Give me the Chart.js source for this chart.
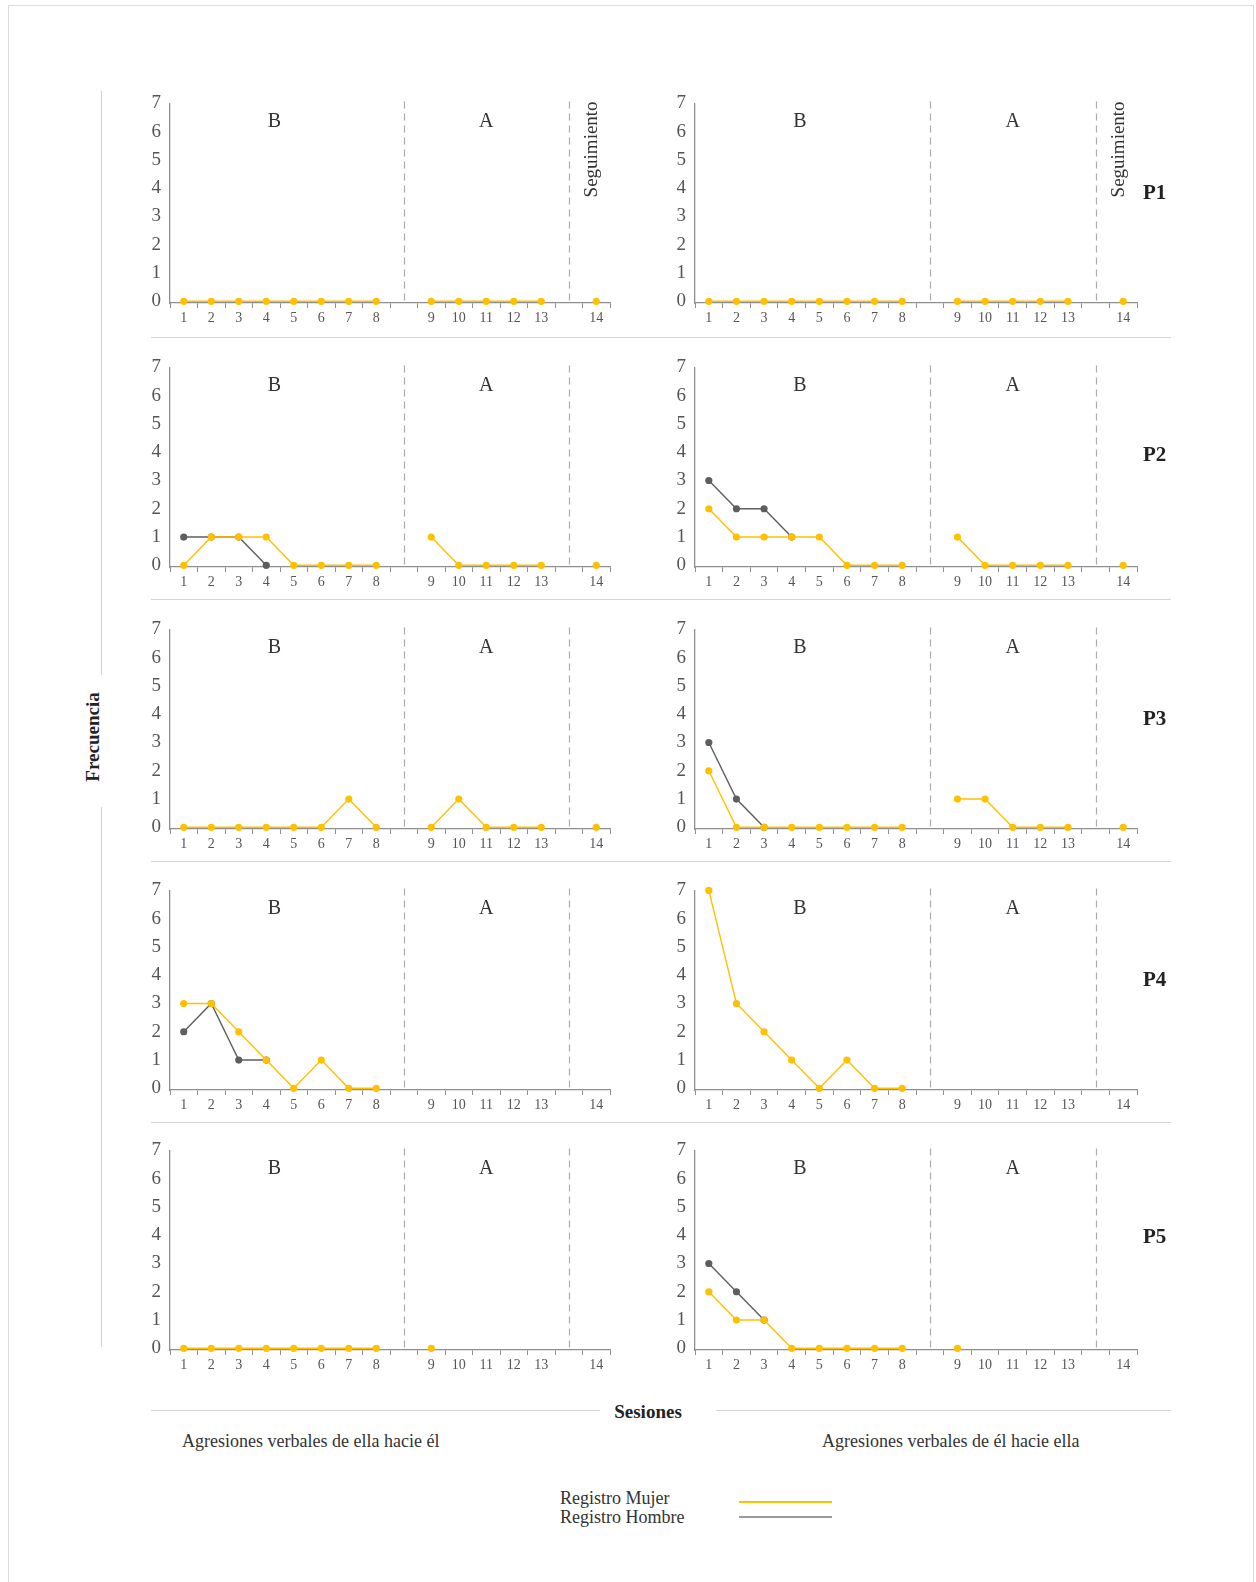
<!DOCTYPE html>
<html>
<head>
<meta charset="utf-8">
<script src="https://cdn.jsdelivr.net/npm/chart.js@4/dist/chart.umd.min.js"></script>
<style>
  html, body { margin:0; padding:0; background:#fff; }
  #page { position:relative; width:1256px; height:1582px; overflow:hidden; font-family:"Liberation Serif", serif; color:#333; }
  .abs { position:absolute; white-space:nowrap; }
  canvas { position:absolute; }
  .hline { position:absolute; height:1px; background:#d4d4d4; }
  .vline { position:absolute; width:1px; background:#cfcfcf; }
  .plab { position:absolute; font-weight:bold; font-size:21px; color:#222; transform:translateY(-50%); }
</style>
</head>
<body>
<div id="page">
  <div class="abs" style="left:8px; top:5px; width:1244px; height:1600px; border:1px solid #dcdcdc;"></div>
  <div class="vline" style="left:101px; top:91px; height:584px;"></div>
  <div class="vline" style="left:101px; top:807px; height:540px;"></div>
  <div class="abs" style="left:93px; top:737px; transform:translate(-50%,-50%) rotate(-90deg); font-weight:bold; font-size:19px; color:#222;">Frecuencia</div>

  <div class="hline" style="left:151px; top:337px; width:1020px;"></div>
  <div class="hline" style="left:151px; top:599px; width:1020px;"></div>
  <div class="hline" style="left:151px; top:861px; width:1020px;"></div>
  <div class="hline" style="left:151px; top:1122px; width:1020px;"></div>

  <div class="hline" style="left:151px; top:1410px; width:449px;"></div>
  <div class="hline" style="left:716px; top:1410px; width:455px;"></div>
  <div class="abs" style="left:648px; top:1412px; transform:translate(-50%,-50%); font-weight:bold; font-size:19px; color:#222;">Sesiones</div>

  <div class="abs" style="left:182px; top:1441px; transform:translateY(-50%); font-size:18px; color:#333;">Agresiones verbales de ella hacie él</div>
  <div class="abs" style="left:822px; top:1441px; transform:translateY(-50%); font-size:18px; color:#333;">Agresiones verbales de él hacie ella</div>

  <div class="abs" style="left:560px; top:1498px; transform:translateY(-50%); font-size:18px; color:#333;">Registro Mujer</div>
  <div class="abs" style="left:560px; top:1517px; transform:translateY(-50%); font-size:18px; color:#333;">Registro Hombre</div>
  <div class="abs" style="left:739px; top:1501px; width:93px; height:2px; background:#FFC000;"></div>
  <div class="abs" style="left:739px; top:1516px; width:93px; height:2px; background:#9a9a9a;"></div>
</div>
<script>
const _ = null;
const sessions = ['1','2','3','4','5','6','7','8','','9','10','11','12','13','','14'];
const yTicks = [0,1,2,3,4,5,6,7];
const participants = ['P1','P2','P3','P4','P5'];
const phaseNames = ['B','A'];
const followUpName = 'Seguimiento';
const columnTitles = ['Agresiones verbales de ella hacie él','Agresiones verbales de él hacie ella'];

// Agresiones verbales de ella hacia él
const ellaP1Mujer  = [0,0,0,0,0,0,0,0,_,0,0,0,0,0,_,0];
const ellaP1Hombre = [_,_,_,_,_,_,_,_,_,_,_,_,_,_,_,_];
const ellaP2Mujer  = [0,1,1,1,0,0,0,0,_,1,0,0,0,0,_,0];
const ellaP2Hombre = [1,1,1,0,_,_,_,_,_,_,_,_,_,_,_,_];
const ellaP3Mujer  = [0,0,0,0,0,0,1,0,_,0,1,0,0,0,_,0];
const ellaP3Hombre = [_,_,_,_,_,_,_,_,_,_,_,_,_,_,_,_];
const ellaP4Mujer  = [3,3,2,1,0,1,0,0,_,_,_,_,_,_,_,_];
const ellaP4Hombre = [2,3,1,1,_,_,_,_,_,_,_,_,_,_,_,_];
const ellaP5Mujer  = [0,0,0,0,0,0,0,0,_,0,_,_,_,_,_,_];
const ellaP5Hombre = [_,_,_,_,_,_,_,_,_,_,_,_,_,_,_,_];

// Agresiones verbales de él hacia ella
const elP1Mujer  = [0,0,0,0,0,0,0,0,_,0,0,0,0,0,_,0];
const elP1Hombre = [_,_,_,_,_,_,_,_,_,_,_,_,_,_,_,_];
const elP2Mujer  = [2,1,1,1,1,0,0,0,_,1,0,0,0,0,_,0];
const elP2Hombre = [3,2,2,1,_,_,_,_,_,_,_,_,_,_,_,_];
const elP3Mujer  = [2,0,0,0,0,0,0,0,_,1,1,0,0,0,_,0];
const elP3Hombre = [3,1,0,_,_,_,_,_,_,_,_,_,_,_,_,_];
const elP4Mujer  = [7,3,2,1,0,1,0,0,_,_,_,_,_,_,_,_];
const elP4Hombre = [_,_,_,_,_,_,_,_,_,_,_,_,_,_,_,_];
const elP5Mujer  = [2,1,1,0,0,0,0,0,_,0,_,_,_,_,_,_];
const elP5Hombre = [3,2,1,_,_,_,_,_,_,_,_,_,_,_,_,_];

const leftPanels  = [[ellaP1Mujer,ellaP1Hombre],[ellaP2Mujer,ellaP2Hombre],[ellaP3Mujer,ellaP3Hombre],[ellaP4Mujer,ellaP4Hombre],[ellaP5Mujer,ellaP5Hombre]];
const rightPanels = [[elP1Mujer,elP1Hombre],[elP2Mujer,elP2Hombre],[elP3Mujer,elP3Hombre],[elP4Mujer,elP4Hombre],[elP5Mujer,elP5Hombre]];

const MUJER = '#FFC000';
const HOMBRE = '#5e5e5e';
const FONT = '"Liberation Serif", serif';

const phasePlugin = {
  id: 'phases',
  beforeDatasetsDraw(chart, args, opts) {
    const {ctx, chartArea} = chart;
    const x = chart.scales.x;
    ctx.save();
    ctx.strokeStyle = '#ababab';
    ctx.lineWidth = 1.2;
    ctx.setLineDash([7, 5]);
    opts.breaks.forEach(i => {
      const px = Math.round(x.getPixelForValue(i)) + 0.5;
      ctx.beginPath();
      ctx.moveTo(px, chartArea.top - 2);
      ctx.lineTo(px, chartArea.bottom);
      ctx.stroke();
    });
    ctx.restore();
  },
  afterDatasetsDraw(chart, args, opts) {
    const {ctx, chartArea} = chart;
    const x = chart.scales.x;
    const at = v => { const f = Math.floor(v), r = v - f; return x.getPixelForValue(f) * (1 - r) + x.getPixelForValue(f + 1) * r; };
    ctx.save();
    ctx.fillStyle = '#333';
    ctx.font = '20px ' + FONT;
    ctx.textAlign = 'center';
    ctx.textBaseline = 'middle';
    opts.labels.forEach(l => ctx.fillText(l.text, at(l.at), chartArea.top + 18));
    if (opts.followUp) {
      ctx.font = '19px ' + FONT;
      ctx.translate(at(15) - 4, chartArea.top + 46);
      ctx.rotate(-Math.PI / 2);
      ctx.fillText(opts.followUp, 0, 0);
    }
    ctx.restore();
  }
};

function makeChart(left, axisY, mujer, hombre, showFollowUp) {
  const c = document.createElement('canvas');
  const W = (left < 600) ? 500 : 502;
  const H = 248;
  c.width = W; c.height = H;
  c.style.left = left + 'px';
  c.style.top = (axisY - 220) + 'px';
  c.style.width = W + 'px'; c.style.height = H + 'px';
  document.getElementById('page').appendChild(c);
  new Chart(c, {
    type: 'line',
    data: {
      labels: sessions,
      datasets: [
        { label: 'Registro Mujer', data: mujer, borderColor: MUJER, backgroundColor: MUJER,
          borderWidth: 1.4, pointRadius: 3.6, pointBorderWidth: 0, pointBackgroundColor: MUJER,
          spanGaps: false, tension: 0, clip: false },
        { label: 'Registro Hombre', data: hombre, borderColor: HOMBRE, backgroundColor: HOMBRE,
          borderWidth: 1.4, pointRadius: 3.6, pointBorderWidth: 0, pointBackgroundColor: HOMBRE,
          spanGaps: false, tension: 0, clip: false }
      ]
    },
    options: {
      responsive: false,
      animation: false,
      devicePixelRatio: 1,
      layout: { padding: { top: 12, right: 10, left: 0, bottom: 0 } },
      plugins: {
        legend: { display: false },
        tooltip: { enabled: false },
        phases: {
          breaks: [8, 14],
          labels: [{ text: phaseNames[0], at: 3.3 }, { text: phaseNames[1], at: 11 }],
          followUp: showFollowUp ? followUpName : null
        }
      },
      scales: {
        x: {
          type: 'category',
          offset: true,
          grid: { offset: true, drawOnChartArea: false, drawTicks: true, tickLength: 5, color: '#8f8f8f', lineWidth: 1 },
          border: { color: '#8f8f8f', width: 1.3 },
          ticks: { font: { family: FONT, size: 14 }, color: '#555', padding: 2, autoSkip: false, maxRotation: 0 },
          afterFit(s) { s.height = 28; }
        },
        y: {
          min: -0.06, max: 7,
          afterBuildTicks(s) { s.ticks = yTicks.map(v => ({ value: v })); },
          grid: { drawOnChartArea: false, drawTicks: false },
          border: { color: '#8f8f8f', width: 1.3 },
          ticks: { font: { family: FONT, size: 19 }, color: '#555', padding: 9 },
          afterFit(s) { s.width = 50; }
        }
      }
    },
    plugins: [phasePlugin]
  });
}

const rowAxisY = [303, 567, 829, 1090, 1350];
const pLabelY = [192, 454, 718, 979, 1236];
participants.forEach((p, i) => {
  makeChart(120, rowAxisY[i], leftPanels[i][0], leftPanels[i][1], i === 0);
  makeChart(645, rowAxisY[i], rightPanels[i][0], rightPanels[i][1], i === 0);
  const d = document.createElement('div');
  d.className = 'plab';
  d.style.left = '1143px';
  d.style.top = pLabelY[i] + 'px';
  d.textContent = p;
  document.getElementById('page').appendChild(d);
});
</script>
</body>
</html>
